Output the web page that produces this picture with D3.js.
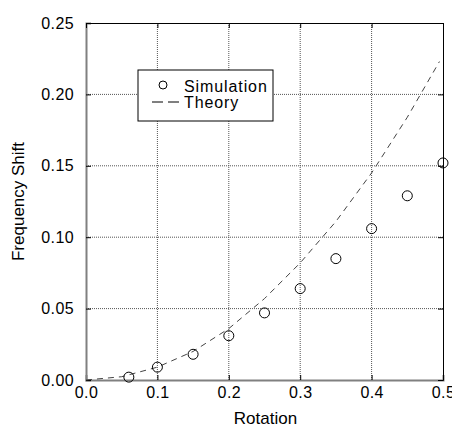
<!DOCTYPE html>
<html>
<head>
<meta charset="utf-8">
<script src="https://cdn.jsdelivr.net/npm/d3@7"></script>
<style>
  body { margin: 0; background: #fff; }
  text { font-family: "Liberation Sans", Arial, sans-serif; fill: #000; }
</style>
</head>
<body>
<script>
// data
var simX = [0.06, 0.10, 0.15, 0.20, 0.25, 0.30, 0.35, 0.40, 0.45, 0.50];
var simY = [0.002, 0.009, 0.018, 0.031, 0.047, 0.064, 0.085, 0.106, 0.129, 0.152];
var theoryX = [0.0, 0.05, 0.10, 0.15, 0.20, 0.25, 0.30, 0.35, 0.40, 0.45, 0.495];
var theoryY = [0.0, 0.0023, 0.009, 0.020, 0.036, 0.057, 0.082, 0.111, 0.145, 0.184, 0.223];
var xTicks = [0, 0.1, 0.2, 0.3, 0.4, 0.5];
var yTicks = [0, 0.05, 0.10, 0.15, 0.20, 0.25];

var margin = {top:23, bottom:47, left:86, right:9};
var w = 452 - margin.left - margin.right,
    h = 427 - margin.top - margin.bottom;

var svg = d3.select("body")
            .append("svg")
              .attr("width", 452)
              .attr("height", 427)
            .append("g")
              .attr("transform", "translate(" + margin.left + "," + margin.top + ")");

var xScale = d3.scaleLinear().domain([0, 0.5]).range([0, w]);
var yScale = d3.scaleLinear().domain([0, 0.25]).range([h, 0]);

// dotted grid
svg.append("g")
    .selectAll("line")
    .data(xTicks.slice(1, -1))
    .enter()
    .append("line")
      .attr("x1", function(d){return xScale(d)})
      .attr("x2", function(d){return xScale(d)})
      .attr("y1", 0).attr("y2", h)
      .style("stroke", "#555").style("stroke-dasharray", "1,1");
svg.append("g")
    .selectAll("line")
    .data(yTicks.slice(1, -1))
    .enter()
    .append("line")
      .attr("y1", function(d){return yScale(d)})
      .attr("y2", function(d){return yScale(d)})
      .attr("x1", 0).attr("x2", w)
      .style("stroke", "#555").style("stroke-dasharray", "1,1");

// axes with inner ticks
var xAxis = d3.axisBottom(xScale).tickValues(xTicks).tickSize(-5).tickPadding(7).tickFormat(d3.format(".1f"));
var yAxis = d3.axisLeft(yScale).tickValues(yTicks).tickSize(-5).tickPadding(12).tickFormat(d3.format(".2f"));
var xAxisTop = d3.axisTop(xScale).tickValues(xTicks).tickSize(-5).tickFormat("");
var yAxisRight = d3.axisRight(yScale).tickValues(yTicks).tickSize(-5).tickFormat("");

var gx = svg.append("g").attr("transform", "translate(0," + h + ")").call(xAxis);
var gy = svg.append("g").call(yAxis);
svg.append("g").call(xAxisTop);
svg.append("g").attr("transform", "translate(" + w + ",0)").call(yAxisRight);

svg.selectAll(".domain").attr("stroke", "#000");
gx.select(".domain").attr("stroke", "#808080").attr("stroke-width", 2);
gy.select(".domain").attr("stroke", "#808080").attr("stroke-width", 2);
svg.selectAll(".tick text")
    .style("font-size", "16px")
    .style("letter-spacing", "0.4px")
    .style("font-family", "Liberation Sans, Arial, sans-serif");

// theory curve
var line = d3.line()
    .x(function(d){return xScale(d[0])})
    .y(function(d){return yScale(d[1])});
svg.append("path")
    .datum(d3.zip(theoryX, theoryY))
    .attr("d", line)
    .style("fill", "none")
    .style("stroke", "#444")
    .style("stroke-dasharray", "6,5");

// simulation points
svg.append("g")
    .selectAll("circle")
    .data(d3.zip(simX, simY))
    .enter()
    .append("circle")
      .attr("cx", function(d){return xScale(d[0])})
      .attr("cy", function(d){return yScale(d[1])})
      .attr("r", 5)
      .style("fill", "none")
      .style("stroke", "#000");

// legend
var lg = svg.append("g").attr("transform", "translate(" + (138 - margin.left) + "," + (70 - margin.top) + ")");
lg.append("rect").attr("width", 135).attr("height", 51)
    .style("fill", "#fff").style("stroke", "#000");
lg.append("circle").attr("cx", 25).attr("cy", 15).attr("r", 4)
    .style("fill", "none").style("stroke", "#000");
lg.append("line").attr("x1", 14).attr("x2", 41).attr("y1", 32).attr("y2", 32)
    .style("stroke", "#000").style("stroke-dasharray", "11,5");
lg.append("text").attr("x", 46).attr("y", 21.5).style("font-size", "16px").style("letter-spacing", "0.9px").text("Simulation");
lg.append("text").attr("x", 46).attr("y", 38).style("font-size", "16px").style("letter-spacing", "0.9px").text("Theory");

// axis labels
svg.append("text")
    .attr("text-anchor", "middle")
    .attr("x", w / 2 + 1)
    .attr("y", h + 44)
    .style("font-size", "17px")
    .text("Rotation");
svg.append("text")
    .attr("text-anchor", "middle")
    .attr("transform", "translate(" + (24 - margin.left) + "," + (h / 2) + ") rotate(-90)")
    .style("font-size", "17px")
    .text("Frequency Shift");
</script>
</body>
</html>
